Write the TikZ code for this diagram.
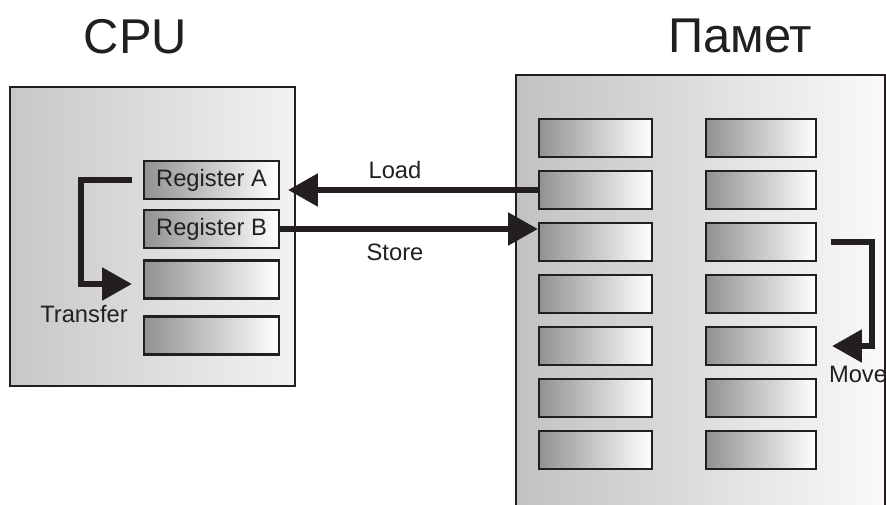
\documentclass[tikz,border=0pt]{standalone}
\usepackage{fontspec}
\setmainfont{Liberation Sans}
\usetikzlibrary{arrows.meta}
\definecolor{ink}{RGB}{35,31,32}

\begin{document}
\begin{tikzpicture}[
x = 0.02cm, y = -0.02cm,
box/.style = {draw=ink, line width=0.9pt, inner sep=0pt},
cell/.style = {draw=ink, line width=1.2pt, left color=black!43, right color=white,
  minimum height=0.76cm, inner sep=0pt, text=ink, font=\fontsize{13.5}{15}\selectfont},
bigarrow/.style = {draw=ink, line width=3.6pt, -{Triangle[length=17pt, width=18pt]}},
lbl/.style = {text=ink, font=\fontsize{13.5}{15}\selectfont, anchor=base},
title/.style = {text=ink, font=\fontsize{27.8}{32}\selectfont, anchor=base}
]
\fill[white] (0,0) rectangle (886,504);
\clip (0,0) rectangle (886,504);

\node[box, left color=black!22, right color=black!5, minimum width=5.7cm, minimum height=5.98cm] (cpu) at (152.5,236.5) {};
\node[box, left color=black!24, right color=black!2, minimum width=7.38cm, minimum height=9cm] (mem) at (700.5,300) {};

\node[cell, minimum width=2.7cm] (regA) at (211.5,180) {Register A};
\node[cell, minimum width=2.7cm] (regB) at (211.5,229) {Register B};
\node[cell, minimum width=2.7cm] (regC) at (211.5,279.5) {};
\node[cell, minimum width=2.7cm] (regD) at (211.5,335.5) {};

\foreach \r in {1,...,7} {
  \node[cell, minimum width=2.26cm] (m-\r-1) at (595.5, 86+52*\r) {};
  \node[cell, minimum width=2.2cm] (m-\r-2) at (761, 86+52*\r) {};
}

\draw[bigarrow] (m-2-1.west) -- ([xshift=0.16cm]m-2-1.west -| regA.east);
\draw[bigarrow] (regB.east) -- (regB.east -| m-3-1.west);
\draw[bigarrow] ([xshift=-0.22cm]regA.west) -- ++(-51,0) |- ([xshift=-0.22cm, yshift=-0.09cm]regC.west);
\draw[bigarrow] ([xshift=0.28cm]m-3-2.east) -- ++(41,0) |- ([xshift=0.3cm]m-5-2.east);

\node[lbl] (load) at (395,178) {Load};
\node[lbl] (store) at (395,260) {Store};
\node[lbl] (transfer) at (84,322) {Transfer};
\node[lbl] (move) at (858,382) {Move};
\node[title] (cputitle) at (135.5,53) {CPU};
\node[title] (memtitle) at (740,52) {Памет};
\end{tikzpicture}
\end{document}
